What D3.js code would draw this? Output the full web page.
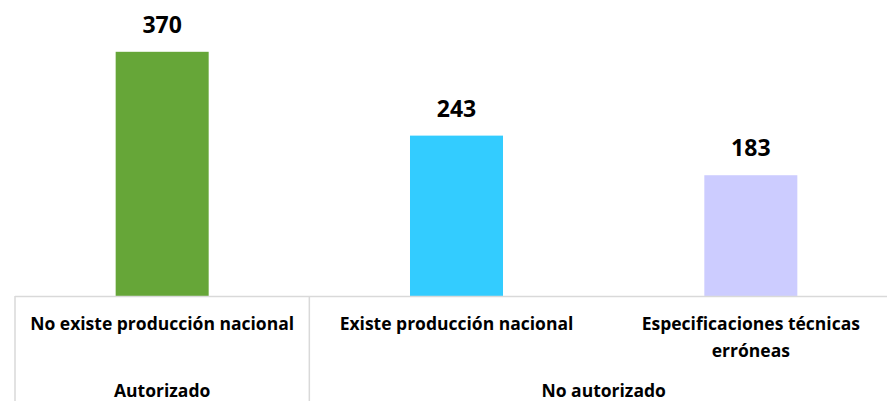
<!DOCTYPE html>
<html lang="es">
  <head>
    <meta charset="UTF-8">
    <title>Solicitudes</title>
    <style>
      html,body{
        background-color: #fff;
        margin: 0;
        padding: 0;
      }
      svg text{
        font-family: "Open Sans", Lato, sans-serif;
        font-weight: bold;
        fill: #000;
      }
    </style>
  </head>
  <body>
    <div id="chart"></div>
    <script src="https://d3js.org/d3.v7.min.js"></script>
    <script>
      // datos
      var categorias = ["No existe producción nacional", "Existe producción nacional", "Especificaciones técnicas erróneas"];
      var lineasCategoria = [["No existe producción nacional"], ["Existe producción nacional"], ["Especificaciones técnicas", "erróneas"]];
      var valores = [370, 243, 183];
      var colores = ["#66a638", "#33ccff", "#ccccff"];
      var grupos = ["Autorizado", "No autorizado"];
      var gruposInicio = [0, 1]; // indice de la primera categoria del grupo
      var gruposFin = [0, 2];

      var ancho = 887, alto = 401;
      var base = 296;

      var svg = d3.select("#chart").append("svg")
        .attr("width", ancho)
        .attr("height", alto);

      var x = d3.scaleBand()
        .domain(categorias)
        .range([15, 898])
        .paddingInner(0.684)
        .paddingOuter(0.342);

      var y = d3.scaleLinear()
        .domain([0, 400])
        .range([base, 32]);

      // barras
      svg.selectAll("rect.barra")
        .data(valores)
        .enter().append("rect")
        .attr("class", "barra")
        .attr("x", function(d, i){ return x(categorias[i]); })
        .attr("y", function(d){ return y(d); })
        .attr("width", x.bandwidth())
        .attr("height", function(d){ return base - y(d); })
        .attr("fill", function(d, i){ return colores[i]; });

      // etiquetas de valor
      svg.selectAll("text.valor")
        .data(valores)
        .enter().append("text")
        .attr("class", "valor")
        .attr("x", function(d, i){ return x(categorias[i]) + x.bandwidth() / 2; })
        .attr("y", function(d){ return y(d) - 19; })
        .attr("text-anchor", "middle")
        .style("font-size", "23px")
        .text(function(d){ return d; });

      // eje
      var gris = "#d9d9d9";
      var paso = x.step();
      var x0 = 15;
      svg.append("line")
        .attr("x1", x0).attr("x2", ancho)
        .attr("y1", base + 0.5).attr("y2", base + 0.5)
        .attr("stroke", gris).attr("stroke-width", 1.5);

      var divisiones = [0, 1];
      svg.selectAll("line.div")
        .data(divisiones)
        .enter().append("line")
        .attr("class", "div")
        .attr("x1", function(d){ return x0 + d * paso; })
        .attr("x2", function(d){ return x0 + d * paso; })
        .attr("y1", base).attr("y2", alto)
        .attr("stroke", gris).attr("stroke-width", 1.5);

      // etiquetas de categoria
      var cat = svg.selectAll("text.cat")
        .data(lineasCategoria)
        .enter().append("text")
        .attr("class", "cat")
        .attr("text-anchor", "middle")
        .style("font-size", "17.5px")
        .attr("x", function(d, i){ return x(categorias[i]) + x.bandwidth() / 2; })
        .attr("y", 330);
      cat.selectAll("tspan")
        .data(function(d){ return d; })
        .enter().append("tspan")
        .attr("x", function(){ return d3.select(this.parentNode).attr("x"); })
        .attr("dy", function(d, j){ return j === 0 ? 0 : 27; })
        .text(function(d){ return d; });

      // etiquetas de grupo
      svg.selectAll("text.grupo")
        .data(grupos)
        .enter().append("text")
        .attr("class", "grupo")
        .attr("text-anchor", "middle")
        .style("font-size", "17.5px")
        .attr("x", function(d, i){ return x0 + paso * (gruposInicio[i] + gruposFin[i] + 1) / 2; })
        .attr("y", 397)
        .text(function(d){ return d; });
    </script>
  </body>
</html>
